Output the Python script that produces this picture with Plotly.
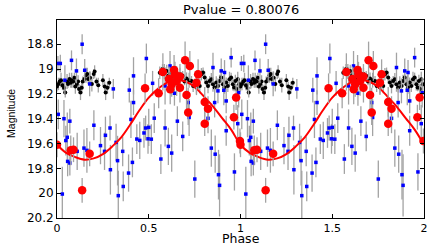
import plotly.graph_objects as go

# ---------------- data (one folded cycle, phase 0..1) ----------------
black_phase = [0.0, 0.008, 0.015, 0.022, 0.03, 0.038, 0.045, 0.055, 0.06, 0.068, 0.075, 0.08,
               0.088, 0.095, 0.1, 0.108, 0.115, 0.12, 0.128, 0.135, 0.14, 0.15, 0.158, 0.165,
               0.17, 0.18, 0.19, 0.2, 0.205, 0.215, 0.225, 0.25, 0.26, 0.265, 0.275, 0.285,
               0.56, 0.575, 0.585, 0.598, 0.607, 0.615, 0.63, 0.655, 0.67, 0.685, 0.695, 0.706,
               0.72, 0.733, 0.742, 0.751, 0.76, 0.768, 0.778, 0.787, 0.796, 0.805, 0.814, 0.823,
               0.832, 0.841, 0.85, 0.859, 0.868, 0.877, 0.886, 0.895, 0.904, 0.913, 0.922, 0.931,
               0.94, 0.949, 0.958, 0.965, 0.972, 0.98, 0.985, 0.994]
black_mag = [19.14, 19.12, 19.1, 19.09, 19.13, 19.15, 19.19, 19.1, 19.12, 19.08, 19.11, 19.09,
             19.1, 19.07, 19.14, 19.12, 19.1, 19.16, 19.19, 19.15, 19.1, 19.08, 19.05, 19.04,
             19.08, 19.07, 19.12, 19.04, 19.02, 19.1, 19.13, 19.09, 19.14, 19.19, 19.15, 19.11,
             19.03, 19.0, 19.02, 19.015, 19.055, 19.04, 19.07, 19.05, 19.04, 19.055, 19.1, 19.077,
             19.09, 19.096, 19.136, 19.109, 19.149, 19.12, 19.136, 19.042, 19.028, 19.069, 19.109, 19.136,
             19.096, 19.082, 19.123, 19.149, 19.109, 19.136, 19.096, 19.069, 19.123, 19.149, 19.109, 19.136,
             19.082, 19.069, 19.123, 19.149, 19.096, 19.16, 19.082, 19.123]
black_err = [0.04, 0.05, 0.03, 0.06, 0.04, 0.05, 0.04, 0.06, 0.03, 0.05, 0.04, 0.06,
             0.05, 0.04, 0.06, 0.03, 0.05, 0.04, 0.06, 0.05, 0.04, 0.03, 0.06, 0.05,
             0.04, 0.05, 0.06, 0.04, 0.05, 0.03, 0.06, 0.05, 0.04, 0.06, 0.05, 0.04,
             0.05, 0.04, 0.06, 0.05, 0.03, 0.05, 0.04, 0.06, 0.05, 0.04, 0.03, 0.05,
             0.06, 0.04, 0.05, 0.03, 0.05, 0.04, 0.06, 0.05, 0.04, 0.05, 0.03, 0.06,
             0.04, 0.05, 0.06, 0.04, 0.05, 0.03, 0.05, 0.04, 0.06, 0.05, 0.04, 0.05,
             0.06, 0.04, 0.05, 0.03, 0.05, 0.04, 0.06, 0.05]

blue_phase = [0.005, 0.018, 0.043, 0.079, 0.106, 0.137, 0.151, 0.178, 0.307, 0.394, 0.417, 0.487,
              0.417, 0.007, 0.038, 0.403,
              0.07, 0.056, 0.048, 0.058, 0.07, 0.11, 0.147, 0.163, 0.201, 0.237, 0.264, 0.289,
              0.259, 0.291, 0.33, 0.358, 0.322, 0.361, 0.39, 0.411, 0.029, 0.334, 0.435, 0.451,
              0.474, 0.483,
              0.521, 0.589, 0.616, 0.64, 0.715, 0.72, 0.823, 0.85, 0.859, 0.877, 0.895, 0.909,
              0.913, 0.922, 0.949, 0.99,
              0.53, 0.50, 0.496, 0.514, 0.589, 0.656, 0.685, 0.607, 0.625, 0.566, 0.751, 0.841,
              0.862, 0.88, 0.886, 0.922, 0.967, 0.985]
blue_mag = [18.955, 18.955, 19.09, 18.93, 19.015, 18.80, 19.01, 19.12, 19.16, 19.17, 19.055, 18.915,
            19.27, 19.365, 19.40, 19.406,
            19.42, 19.55, 19.576, 19.744, 19.757, 19.663, 19.637, 19.655, 19.453, 19.617, 19.534, 19.475,
            19.663, 19.811, 19.738, 19.663, 19.591, 19.946, 19.838, 19.752, 20.007, 20.02, 19.564, 19.575,
            19.515, 19.475,
            19.115, 19.136, 18.975, 19.195, 19.27, 19.39, 19.397, 18.988, 19.27, 19.176, 19.015, 19.171,
            19.028, 19.257, 18.908, 19.19,
            19.396, 19.47, 19.562, 19.565, 19.475, 19.42, 19.543, 19.623, 19.677, 19.725, 19.886, 19.637,
            19.686, 19.851, 19.937, 19.497, 19.829, 19.44]
blue_err = [0.06, 0.07, 0.12, 0.08, 0.10, 0.08, 0.09, 0.10, 0.08, 0.10, 0.15, 0.12,
            0.10, 0.12, 0.15, 0.15,
            0.10, 0.20, 0.12, 0.12, 0.10, 0.15, 0.15, 0.18, 0.12, 0.15, 0.15, 0.10,
            0.15, 0.20, 0.20, 0.12, 0.15, 0.12, 0.15, 0.12, 0.22, 0.20, 0.12, 0.15,
            0.12, 0.10,
            0.10, 0.15, 0.12, 0.10, 0.12, 0.15, 0.12, 0.12, 0.12, 0.10, 0.10, 0.12,
            0.10, 0.10, 0.08, 0.12,
            0.12, 0.15, 0.12, 0.12, 0.15, 0.12, 0.12, 0.15, 0.15, 0.12, 0.15, 0.15,
            0.15, 0.20, 0.25, 0.12, 0.15, 0.15]

red_phase = [0.0, 0.075, 0.09, 0.137, 0.178, 0.48, 0.554, 0.577, 0.61, 0.617, 0.625, 0.638,
             0.643, 0.652, 0.67, 0.67, 0.698, 0.706, 0.715, 0.724, 0.76, 0.769, 0.805, 0.805,
             0.823, 0.964, 0.976, 0.997]
red_mag = [19.61, 19.655, 19.65, 19.977, 19.683, 19.155, 19.195, 19.023, 19.08, 19.163, 19.123, 19.007,
           19.042, 19.096, 19.06, 19.15, 18.929, 19.21, 19.35, 18.975, 19.11, 19.042, 19.265, 19.44,
           19.319, 19.388, 19.23, 19.58]
red_err = [0.10, 0.12, 0.10, 0.10, 0.10, 0.12, 0.12, 0.15, 0.10, 0.12, 0.10, 0.12,
           0.10, 0.12, 0.10, 0.12, 0.15, 0.12, 0.10, 0.12, 0.10, 0.12, 0.12, 0.10,
           0.10, 0.10, 0.10, 0.10]

curve_phase = [0.0, 0.05, 0.1, 0.15, 0.2, 0.25, 0.3, 0.35, 0.4, 0.45, 0.5, 0.55, 0.6, 0.65,
               0.7, 0.75, 0.8, 0.85, 0.9, 0.95, 1.0]
curve_mag = [19.61, 19.675, 19.71, 19.73, 19.72, 19.685, 19.625, 19.55, 19.445, 19.33, 19.23,
             19.16, 19.11, 19.09, 19.10, 19.145, 19.22, 19.30, 19.395, 19.49, 19.61]

x_ticks = [0, 0.5, 1, 1.5, 2]
x_tick_text = ["0", "0.5", "1", "1.5", "2"]
y_ticks = [18.8, 19.0, 19.2, 19.4, 19.6, 19.8, 20.0, 20.2]
y_tick_text = ["18.8", "19", "19.2", "19.4", "19.6", "19.8", "20", "20.2"]
title_text = "Pvalue = 0.80076"


def two_cycles(ph, vals):
    return list(ph) + [p + 1 for p in ph], list(vals) + list(vals)


fig = go.Figure()
bar_col = "#a3a3a3"

bx, by = two_cycles(black_phase, black_mag)
_, be = two_cycles(black_phase, black_err)
fig.add_trace(go.Scatter(x=bx, y=by, mode="markers",
                         marker=dict(color="black", size=4),
                         error_y=dict(type="data", array=be, color=bar_col, thickness=1.3, width=0)))

ux, uy = two_cycles(blue_phase, blue_mag)
_, ue = two_cycles(blue_phase, blue_err)
fig.add_trace(go.Scatter(x=ux, y=uy, mode="markers",
                         marker=dict(color="#0000ff", size=3.5, symbol="square"),
                         error_y=dict(type="data", array=ue, color=bar_col, thickness=1.3, width=0)))

cx, cy = two_cycles(curve_phase[:-1], curve_mag[:-1])
cx.append(2.0)
cy.append(curve_mag[-1])
fig.add_trace(go.Scatter(x=cx, y=cy, mode="lines", line=dict(color="#ff0000", width=2, shape="spline")))

rx, ry = two_cycles(red_phase, red_mag)
_, re_ = two_cycles(red_phase, red_err)
fig.add_trace(go.Scatter(x=rx, y=ry, mode="markers",
                         marker=dict(color="#ff0000", size=8.5),
                         error_y=dict(type="data", array=re_, color=bar_col, thickness=1.3, width=0)))

axis_common = dict(showline=True, linecolor="black", linewidth=1, mirror="ticks",
                   ticks="inside", ticklen=4, tickcolor="black", showgrid=False, zeroline=False)

fig.update_layout(
    width=436, height=245,
    margin=dict(l=57, r=8, t=20, b=27),
    paper_bgcolor="white", plot_bgcolor="white",
    showlegend=False,
    xaxis=dict(range=[0, 2], tickvals=x_ticks, ticktext=x_tick_text,
               tickfont=dict(family="DejaVu Sans", size=11, color="black"), **axis_common),
    yaxis=dict(range=[20.2, 18.605], tickvals=y_ticks, ticktext=y_tick_text,
               tickfont=dict(family="DejaVu Sans", size=12, color="black"), **axis_common),
    annotations=[
        dict(text=title_text, x=0.5, y=1, xref="paper", yref="paper", showarrow=False,
             xanchor="center", yanchor="middle", yshift=10.5,
             font=dict(family="DejaVu Sans", size=13, color="black")),
        dict(text="Phase", x=0.5, y=0, xref="paper", yref="paper", showarrow=False,
             xanchor="center", yanchor="middle", yshift=-20,
             font=dict(family="DejaVu Sans", size=12.5, color="black")),
        dict(text="Magnitude", x=0, y=0.528, xref="paper", yref="paper", showarrow=False,
             xanchor="center", yanchor="middle", xshift=-45.5, textangle=-90,
             font=dict(family="Liberation Sans", size=10.5, color="black")),
    ],
)

fig.write_html("out.html", config={"displayModeBar": False},
               post_script="document.body.style.margin='0px';document.body.style.overflow='hidden';")
